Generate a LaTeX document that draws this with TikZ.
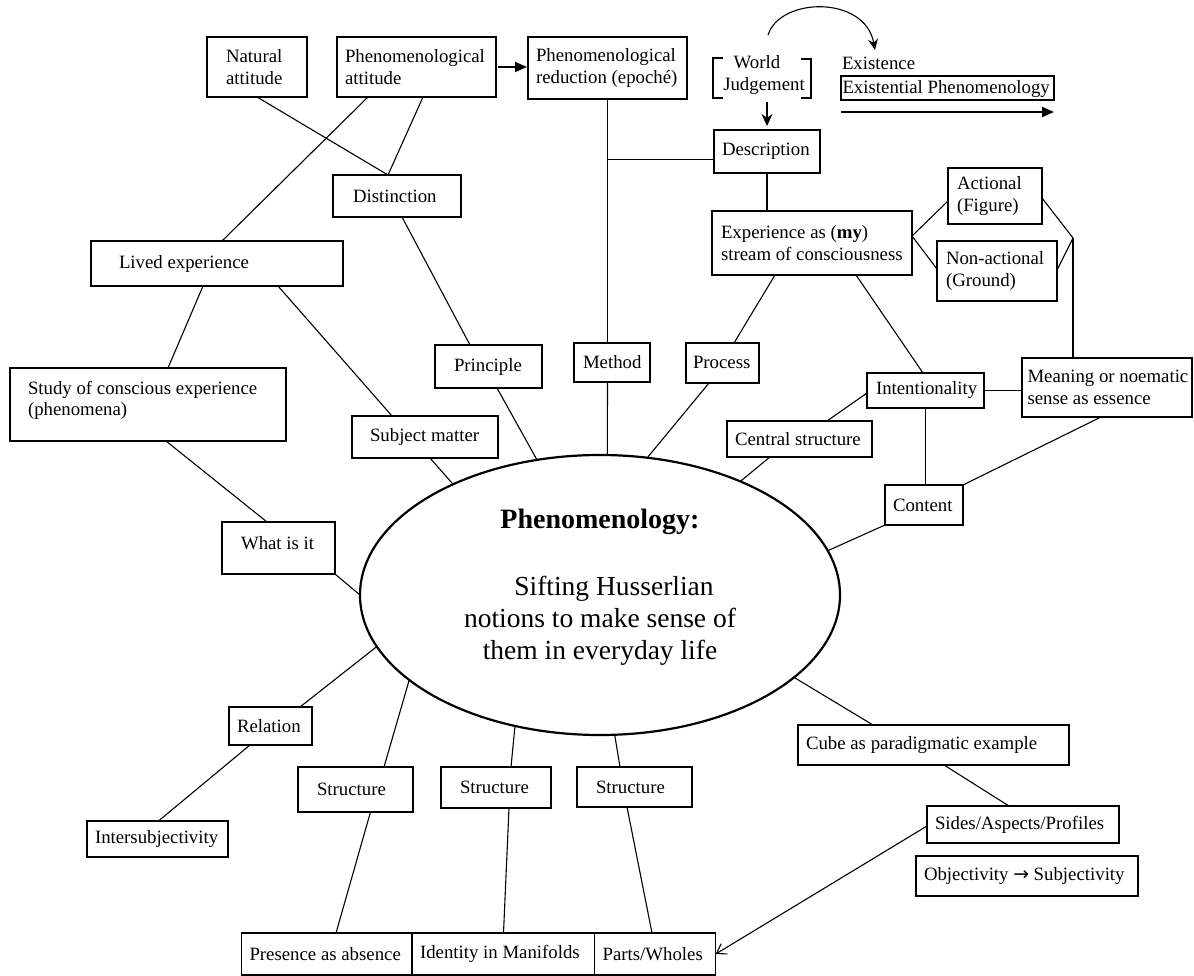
\documentclass[tikz,border=0pt]{standalone}
\usepackage{fontspec}
\setmainfont{Liberation Serif}
\newfontfamily\arrowfont{DejaVu Sans}
\usetikzlibrary{arrows.meta,shapes.geometric}

\tikzset{
  box/.style={draw, line width=1.3pt, inner sep=0pt, outer sep=0pt, rectangle},
  txt/.style={inner sep=0pt, outer sep=0pt, align=left, font=\fontsize{18.8pt}{21.5pt}\selectfont},
  conn/.style={line width=1.1pt},
  ellnode/.style={draw, ellipse, line width=2.2pt, inner sep=0pt, outer sep=0pt, minimum width=480pt, minimum height=280pt},
  bigtip/.style={line width=1.8pt, -{Triangle[length=12pt,width=10pt]}},
}

% name, x1, y1, x2, y2, left pad, y shift of text, text
\newcommand{\boxat}[8]{%
  \node[box, anchor=north west, minimum width={#4pt-#2pt}, minimum height={#5pt-#3pt}] (#1) at (#2,#3) {};
  \node[txt, anchor=west] (#1t) at ([xshift=#6pt,yshift=#7pt]#1.west) {#8};
}

\begin{document}
\begin{tikzpicture}[x=1pt, y=-1pt]
\useasboundingbox (0,0) rectangle (1194,976);

% ---- central ellipse
\node[ellnode] (ell) at (600,595) {};
\node[inner sep=0pt, font=\bfseries\fontsize{28pt}{32pt}\selectfont] (title) at (600,522) {Phenomenology:};
\node[inner sep=0pt, align=center, font=\fontsize{27.5pt}{32pt}\selectfont] (sub) at (600,621)
  {\hspace*{28pt}Sifting Husserlian\\notions to make sense of\\them in everyday life};

% ---- boxes
\boxat{nat}{207}{37}{307}{97}{19}{0}{Natural\\attitude}
\boxat{phatt}{337}{37}{496}{97}{8}{0}{Phenomenological\\attitude}
\boxat{red}{528}{37}{687}{99}{8}{0}{Phenomenological\\reduction (epoché)}
\boxat{dist}{333}{175}{461}{217}{20}{0}{Distinction}
\boxat{desc}{714}{130}{820}{173}{8}{0}{Description}
\boxat{exp}{712}{211}{912}{275}{9}{0}{Experience as (\textbf{my})\\stream of consciousness}
\boxat{act}{948}{168}{1042}{224}{9}{0}{Actional\\(Figure)}
\boxat{nonact}{937}{241}{1057}{301}{9}{0}{Non-actional\\(Ground)}
\boxat{lived}{91}{241}{343}{286}{28}{0}{Lived experience}
\boxat{study}{10}{368}{286}{441}{18}{4}{Study of conscious experience\\(phenomena)}
\boxat{princ}{435}{345}{542}{388}{19}{0}{Principle}
\boxat{method}{574}{343}{650}{382}{9}{0}{Method}
\boxat{process}{686}{343}{759}{383}{7}{1}{Process}
\boxat{subj}{352}{416}{498}{458}{18}{0}{Subject matter}
\boxat{inten}{867}{373}{984}{408}{9}{0}{Intentionality}
\boxat{meaning}{1022}{358}{1192}{417}{5.5}{0}{Meaning or noematic\\sense as essence}
\boxat{central}{727}{421}{872}{457}{8}{0}{Central structure}
\boxat{content}{885}{485}{963}{525}{8}{0}{Content}
\boxat{what}{222}{522}{335}{574}{19}{5}{What is it}
\boxat{relation}{229}{707}{312}{745}{8}{0}{Relation}
\boxat{inter}{87}{821}{228}{857}{8}{0}{Intersubjectivity}
\boxat{strA}{298}{767}{413}{812}{19}{0}{Structure}
\boxat{strB}{441}{767}{551}{808}{19}{0}{Structure}
\boxat{strC}{577}{767}{692}{807}{19}{0}{Structure}
\boxat{pres}{241.5}{933}{412}{975}{8}{0}{Presence as absence}
\boxat{ident}{412}{933}{594.6}{975}{8}{0}{Identity in Manifolds}
\boxat{parts}{594.6}{933}{715.7}{975}{8}{0}{Parts/Wholes}
\boxat{cube}{798}{725}{1069}{765}{8}{0}{Cube as paradigmatic example}
\boxat{sides}{927}{806}{1119}{843}{8}{0}{Sides/Aspects/Profiles}
\boxat{obj}{916}{856}{1138}{896}{8}{0}{Objectivity {\arrowfont →} Subjectivity}
\boxat{exph}{841}{76}{1054}{100}{1.5}{-1}{Existential Phenomenology}

% ---- top right texts
\node[txt, anchor=west] (exist) at (842,63) {Existence};
\node[txt, align=center] (wj) at (764,75) {World\hspace*{14pt}\\Judgement};
\draw[line width=1.3pt] (723,58) -- (713,58) -- (713,98) -- (723,98);
\draw[line width=1.3pt] (801,59) -- (811,59) -- (811,98) -- (801,98);

\coordinate (cstart) at (768,35);
\coordinate (cend) at (875,50);
\draw[conn, -{Stealth[length=11pt,width=10pt]}] (cstart) .. controls (780,-3) and (865,-5) .. (cend);
\draw[conn, -{Stealth[length=12pt,width=11pt]}, shorten <=8pt, shorten >=4pt] (wj.south -| desc.north) -- (desc.north);
\draw[bigtip] ([yshift=-12pt]exph.south west) -- ([yshift=-12pt]exph.south east);
\draw[bigtip, shorten <=2pt, shorten >=1pt] (phatt.east) -- (phatt.east -| red.west);

% ---- connectors
\coordinate (j) at (1073,238);
\draw[conn] ([xshift=50pt]nat.south west) -- ([xshift=55pt]dist.north west);
\draw[conn] ([xshift=86pt]phatt.south west) -- ([xshift=55pt]dist.north west);
\draw[conn] ([xshift=31pt]phatt.south west) -- ([xshift=131pt]lived.north west);
\draw[conn] (red.south) -- (red.south |- method.north);
\draw[conn] (method.south -| red.south) -- (ell.87);
\draw[conn] ([yshift=-8pt]desc.west) -- ([yshift=-8pt]desc.west -| red.south);
\draw[conn] (desc.south) -- (desc.south |- exp.north);
\draw[conn] ([yshift=7pt]exp.east) -- ([yshift=-5pt]act.west);
\draw[conn] ([yshift=7pt]exp.east) -- ([yshift=2pt]nonact.west);
\draw[conn] ([yshift=-2pt]act.east) -- (j);
\draw[conn] ([yshift=1pt]nonact.east) -- (j);
\draw[conn] (j) -- (j |- meaning.north);
\draw[conn] ([xshift=63pt]exp.south west) -- ([xshift=48pt]process.north west);
\draw[conn] ([xshift=144pt]exp.south west) -- ([xshift=56pt]inten.north west);
\draw[conn] ([xshift=23pt]process.south west) -- (ell.71);
\draw[conn] (inten.east) -- (inten.east -| meaning.west);
\draw[conn] ([yshift=-2.5pt]inten.west) -- ([xshift=100pt]central.north west);
\draw[conn] ([xshift=43pt]central.south west) -- (ell.39);
\draw[conn] (inten.south) -- (inten.south |- content.north);
\draw[conn] (content.north east) -- ([xshift=79pt]meaning.south west);
\draw[conn] (content.south west) -- (ell.11);
\draw[conn] ([xshift=69pt]dist.south west) -- ([xshift=35pt]princ.north west);
\draw[conn] ([xshift=62pt]princ.south west) -- (ell.115);
\draw[conn] ([xshift=112pt]lived.south west) -- ([xshift=158pt]study.north west);
\draw[conn] ([xshift=187pt]lived.south west) -- ([xshift=40pt]subj.north west);
\draw[conn] ([xshift=78pt]subj.south west) -- (ell.143);
\draw[conn] ([xshift=156pt]study.south west) -- ([xshift=45pt]what.north west);
\draw[conn] (what.south east) -- (ell.180);
\draw[conn] ([xshift=71pt]relation.north west) -- (ell.193);
\draw[conn] ([xshift=21pt]relation.south west) -- ([xshift=71.5pt]inter.north west);
\draw[conn] ([xshift=86pt]strA.north west) -- (ell.204);
\draw[conn] ([xshift=72.5pt]strA.south west) -- ([xshift=94.5pt]pres.north west);
\draw[conn] ([xshift=70pt]strB.north west) -- (ell.237);
\draw[conn] ([xshift=68pt]strB.south west) -- ([xshift=91.5pt]ident.north west);
\draw[conn] ([xshift=43pt]strC.north west) -- (ell.276);
\draw[conn] ([xshift=50pt]strC.south west) -- ([xshift=57.4pt]parts.north west);
\draw[conn] (ell.337) -- ([xshift=75pt]cube.north west);
\draw[conn] ([xshift=146pt]cube.south west) -- ([xshift=82pt]sides.north west);
\draw[conn, -{Straight Barb[length=9pt,width=12pt]}] ([yshift=-1.5pt]sides.west) -- (parts.east);
\end{tikzpicture}
\end{document}
